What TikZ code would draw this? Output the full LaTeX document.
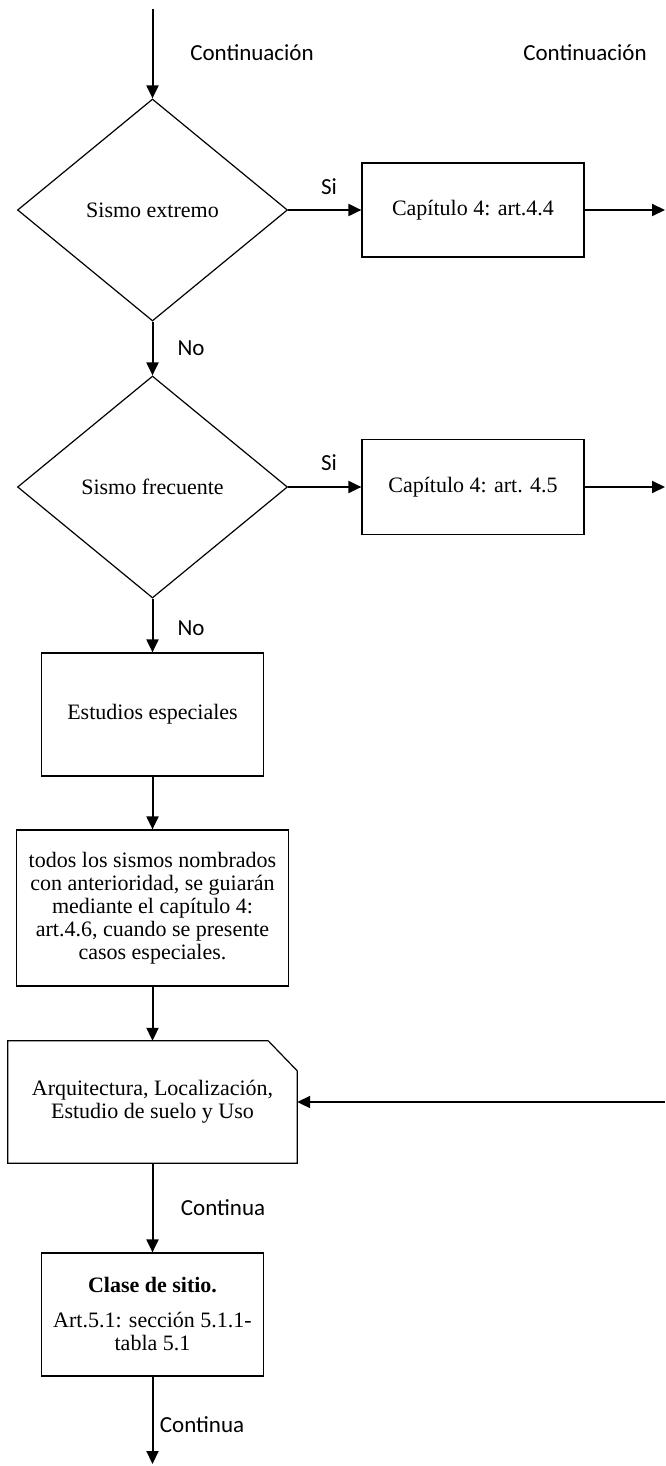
\documentclass[tikz,border=0pt]{standalone}
\usepackage{fontspec}
\setmainfont{Liberation Serif}
\newfontfamily\lblfont{Carlito}
\usetikzlibrary{shapes.geometric,arrows.meta}
\begin{document}
\begin{tikzpicture}[x=1pt,y=-1pt,
  txt/.style={font=\fontsize{22}{23}\selectfont,align=center},
  box/.style={txt,draw,line width=1.2pt,rectangle,inner sep=0pt},
  decision/.style={txt,draw,line width=1.2pt,diamond,inner sep=0pt,
    minimum width=270pt,minimum height=222pt},
  flow/.style={line width=2pt,-{Triangle[length=13pt,width=12pt]}},
  lbl/.style={font=\lblfont\fontsize{23}{25}\selectfont,inner sep=0pt}]
\useasboundingbox (0,0) rectangle (665,1466);

% nodes
\coordinate (start) at (152.5,9);
\node[decision] (d1) at (152.5,210) {Sismo extremo};
\node[box,minimum width=222pt,minimum height=94pt] (b1) at (473,210) {Capítulo 4: art.4.4};
\coordinate (e1) at (665,210);
\node[decision] (d2) at (152.5,487) {Sismo frecuente};
\node[box,minimum width=222pt,minimum height=95pt] (b2) at (473,487) {Capítulo 4: art. 4.5};
\coordinate (e2) at (665,487);
\node[box,minimum width=222pt,minimum height=123pt] (b3) at (152.5,714.5) {Estudios especiales};
\node[box,minimum width=272pt,minimum height=156pt] (b4) at (152.5,908)
  {todos los sismos nombrados\\con anterioridad, se guiarán\\mediante el capítulo 4:\\art.4.6, cuando se presente\\casos especiales.};
\node[txt,inner sep=0pt,minimum width=289pt,minimum height=122pt] (b5) at (152.5,1102)
  {Arquitectura, Localización,\\Estudio de suelo y Uso};
\draw[line width=1.2pt] (b5.north west) -- ([xshift=-29pt]b5.north east)
  -- ([yshift=-30pt]b5.north east) -- (b5.south east) -- (b5.south west) -- cycle;
\coordinate (e3) at (665,1102);
\node[box,minimum width=222pt,minimum height=123pt] (b6) at (152.5,1314.5)
  {\textbf{Clase de sitio.}\\[12pt]Art.5.1: sección 5.1.1-\\tabla 5.1};
\coordinate (finish) at (152.5,1464);

% connectors
\draw[flow] (start) -- (d1.north);
\draw[flow] (d1.east) -- (b1.west);
\draw[flow] (b1.east) -- (e1);
\draw[flow] (d1.south) -- (d2.north);
\draw[flow] (d2.east) -- (b2.west);
\draw[flow] (b2.east) -- (e2);
\draw[flow] (d2.south) -- (b3.north);
\draw[flow] (b3.south) -- (b4.north);
\draw[flow] (b4.south) -- (b5.north);
\draw[flow] (e3) -- (b5.east);
\draw[flow] (b5.south) -- (b6.north);
\draw[flow] (b6.south) -- (finish);

% labels
\node[lbl] (c1) at (252,53) {Continuación};
\node[lbl] (c2) at (585,53) {Continuación};
\node[lbl] (si1) at (329,187) {Si};
\node[lbl] (si2) at (329,463) {Si};
\node[lbl] (no1) at (191,348) {No};
\node[lbl] (no2) at (191,628) {No};
\node[lbl] (ct1) at (223,1208) {Continua};
\node[lbl] (ct2) at (202,1425) {Continua};
\end{tikzpicture}
\end{document}
